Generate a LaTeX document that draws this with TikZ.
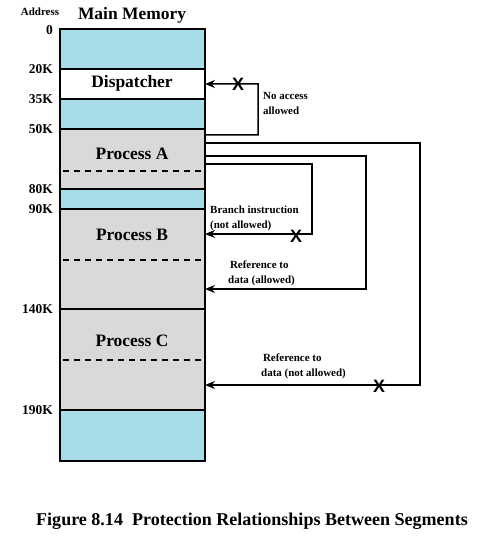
\documentclass[tikz,border=0pt]{standalone}
\usepackage{fontspec}
\setmainfont{Liberation Serif}
\newfontfamily\xfont{Liberation Sans}
\usetikzlibrary{arrows.meta,positioning}
\definecolor{memblue}{RGB}{168,220,232}
\definecolor{memgrey}{RGB}{217,217,217}
\tikzset{
	seg/.style={draw, line width=1.4bp, minimum width=145bp, anchor=north west, inner sep=0pt, outer sep=0pt},
	addr/.style={anchor=east, inner sep=0pt, font=\bfseries\fontsize{13.5}{14}\selectfont},
	title/.style={inner sep=0pt, font=\bfseries\fontsize{17.5}{18}\selectfont},
	note/.style={anchor=west, align=left, inner sep=0pt, font=\bfseries\fontsize{11}{15}\selectfont},
	conn/.style={line width=1.5bp, -{Stealth[length=10bp,width=8bp]}},
	xmark/.style={inner sep=0pt, font=\xfont\bfseries\fontsize{18}{18}\selectfont}
}
\begin{document}
\begin{tikzpicture}[x=1bp, y=-1bp]
	\useasboundingbox (0,0) rectangle (481,547);
	
	% memory segments
	\node[seg, fill=memblue, minimum height=40bp] (free0) at (60,29) {};
	\node[seg, fill=white, minimum height=30bp] (disp) at (60,69) {};
	\node[seg, fill=memblue, minimum height=30bp] (free1) at (60,99) {};
	\node[seg, fill=memgrey, minimum height=60bp] (procA) at (60,129) {};
	\node[seg, fill=memblue, minimum height=20bp] (free2) at (60,189) {};
	\node[seg, fill=memgrey, minimum height=100bp] (procB) at (60,209) {};
	\node[seg, fill=memgrey, minimum height=101bp] (procC) at (60,309) {};
	\node[seg, fill=memblue, minimum height=51bp] (free3) at (60,410) {};
	
	\draw[line width=1.3bp, dash pattern=on 6bp off 5bp] (63,171) -- (202,171);
	\draw[line width=1.3bp, dash pattern=on 6bp off 5bp] (63,260) -- (202,260);
	\draw[line width=1.3bp, dash pattern=on 6bp off 5bp] (63,360) -- (202,360);
	
	\node[title] (dispT) at (132,83) {Dispatcher};
	\node[title] (procAT) at (132,154) {Process A};
	\node[title] (procBT) at (132,235) {Process B};
	\node[title] (procCT) at (132,341) {Process C};
	\node[title] (head) at (132,15) {Main Memory};
	\node[inner sep=0pt, font=\bfseries\fontsize{11}{12}\selectfont] (addrT) at (40,12) {Address};
	
	% addresses
	\node[addr] (k0) at (53,30) {0};
	\node[addr] (k20) at (53,69) {20K};
	\node[addr] (k35) at (53,99) {35K};
	\node[addr] (k50) at (53,129) {50K};
	\node[addr] (k80) at (53,189) {80K};
	\node[addr] (k90) at (53,209) {90K};
	\node[addr] (k140) at (53,309) {140K};
	\node[addr] (k190) at (53,410) {190K};
	
	% connectors
	\coordinate (a1) at (205,135);
	\coordinate (a2) at (205,143);
	\coordinate (a3) at (205,156);
	\coordinate (a4) at (205,164);
	\coordinate (t1) at (258,84);
	\coordinate (t2) at (420,385);
	\coordinate (t3) at (366,289);
	\coordinate (t4) at (312,234);
	\coordinate (b1) at (205,234);
	\coordinate (b2) at (205,289);
	\coordinate (c1) at (205,385);
	
	\draw[conn] (a1) -| (t1) -- (disp.east);
	\draw[conn] (a2) -| (t2) -- (c1);
	\draw[conn] (a3) -| (t3) -- (b2);
	\draw[conn] (a4) -| (t4) -- (b1);
	
	\node[xmark] (x1) at (238,84) {X};
	\node[xmark] (x2) at (379,386) {X};
	\node[xmark] (x3) at (296,236) {X};
	
	\node[note] (n1) at (263,103) {No access\\allowed};
	\node[note] (n2) at (210,218) {Branch instruction\\(not allowed)};
	\node[note] (n3) at (228,273) {\,Reference to\\data (allowed)};
	\node[note] (n4) at (261,366) {\,Reference to\\data (not allowed)};
	
	\node[inner sep=0pt, font=\bfseries\fontsize{18.1}{19}\selectfont] (cap) at (252,521) {Figure 8.14\ \ Protection Relationships Between Segments};
	
\end{tikzpicture}
\end{document}
